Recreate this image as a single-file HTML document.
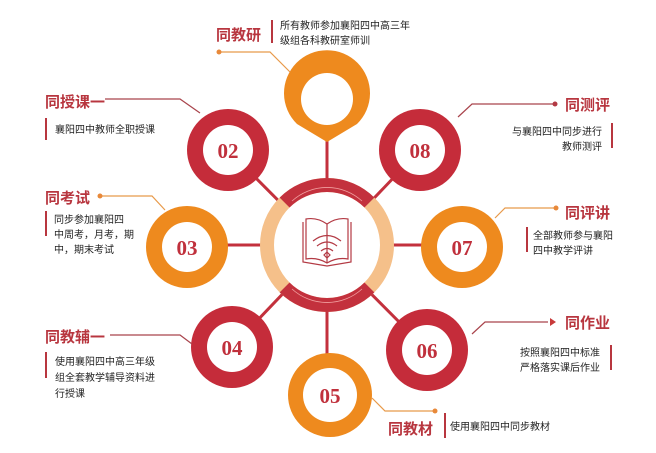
<!DOCTYPE html>
<html><head><meta charset="utf-8"><style>
body{margin:0;background:#fff;width:656px;height:453px;overflow:hidden}
svg{display:block}
.t{font-family:"Liberation Sans","Noto Sans CJK SC",sans-serif;font-size:10px;fill:#222}
.h{font-family:"Liberation Sans","Noto Sans CJK SC",sans-serif;font-size:15px;font-weight:bold;fill:#b8363f}
.n{font-family:"Liberation Serif",serif;font-size:21px;font-weight:bold;fill:#c0303c;text-anchor:middle}
</style></head><body>
<svg width="656" height="453" viewBox="0 0 656 453">
<g stroke="#c3313d" stroke-width="3">
<line x1="327" y1="130" x2="327" y2="360"/>
<line x1="200" y1="245" x2="455" y2="245"/>
<line x1="228" y1="150" x2="427" y2="350"/>
<line x1="420" y1="150" x2="232" y2="347"/>
</g>
<circle cx="327" cy="245" r="60" fill="#fff" stroke="#f5c08a" stroke-width="14"/>
<path d="M284.6 202.6 A60 60 0 0 1 369.4 202.6" fill="none" stroke="#c3313d" stroke-width="14"/>
<path d="M284.6 287.4 A60 60 0 0 0 369.4 287.4" fill="none" stroke="#c3313d" stroke-width="14"/>
<path d="M292 201 A52 52 0 0 1 362 201 M292 289 A52 52 0 0 0 362 289" fill="none" stroke="#f2a0a0" stroke-width="0.8"/>
<g fill="none" stroke="#b33a44" stroke-width="1.2">
<path d="M303 222 L303 262 L327 266 L351 262 L351 222"/>
<path d="M306 219 Q317 217 327 224 Q337 217 348 219 L348 259 Q337 257 327 263 Q317 257 306 259 Z"/>
<line x1="327" y1="224" x2="327" y2="263"/>
<path d="M313 241 Q327 230 341 241 M317 246 Q327 238 337 246 M321 251 Q327 246 333 251"/>
<path d="M327 252 l3 3 -3 3 -3 -3z"/>
</g>
<g>
<path d="M327 142 L297 124 A43 43 0 1 1 357 124 Z" fill="#ee8a1e"/>
<circle cx="327" cy="99" r="26" fill="#fff"/>
<circle cx="228" cy="150" r="41" fill="#c52c3a"/><circle cx="228" cy="150" r="25" fill="#fff"/>
<circle cx="420" cy="150" r="41" fill="#c52c3a"/><circle cx="420" cy="150" r="25" fill="#fff"/>
<circle cx="187" cy="247" r="41" fill="#ee8a1e"/><circle cx="187" cy="247" r="25" fill="#fff"/>
<circle cx="462" cy="247" r="41" fill="#ee8a1e"/><circle cx="462" cy="247" r="25" fill="#fff"/>
<circle cx="232" cy="347" r="41" fill="#c52c3a"/><circle cx="232" cy="347" r="25" fill="#fff"/>
<circle cx="427" cy="350" r="41" fill="#c52c3a"/><circle cx="427" cy="350" r="25" fill="#fff"/>
<circle cx="330" cy="395" r="42" fill="#ee8a1e"/><circle cx="330" cy="395" r="27" fill="#fff"/>
</g>
<text class="n" x="228" y="158">02</text>
<text class="n" x="420" y="158">08</text>
<text class="n" x="187" y="255">03</text>
<text class="n" x="462" y="255">07</text>
<text class="n" x="232" y="355">04</text>
<text class="n" x="427" y="358">06</text>
<text class="n" x="330" y="403">05</text>
<g fill="none" stroke-width="1.2">
<path d="M219 52 L270 52 L290 72" stroke="#e89a4a"/>
<path d="M105 99 L180 99 L200 113" stroke="#a9444c"/>
<path d="M100 196 L152 196 L165 210" stroke="#e89a4a"/>
<path d="M110 335 L180 335 L192 344" stroke="#a9444c"/>
<path d="M555 104 L472 104 L458 117" stroke="#a9444c"/>
<path d="M556 208 L505 208 L495 218" stroke="#e89a4a"/>
<path d="M548 322 L485 322 L472 334" stroke="#a9444c"/>
<path d="M435 411 L385 411 L372 398" stroke="#e89a4a"/>
</g>
<g fill="#e8893a"><circle cx="219" cy="52" r="2.5"/><circle cx="100" cy="196" r="2.5"/><circle cx="556" cy="208" r="2.5"/><circle cx="435" cy="411" r="2.5"/></g>
<circle cx="555" cy="104" r="2.5" fill="#b33a44"/>
<path d="M550 318 L556 322 L550 326 Z" fill="#c83a3a"/>
<g stroke="#b8363f" stroke-width="2">
<line x1="272" y1="20" x2="272" y2="43"/>
<line x1="46" y1="118" x2="46" y2="140"/>
<line x1="46" y1="211" x2="46" y2="236"/>
<line x1="46" y1="352" x2="46" y2="378"/>
<line x1="612" y1="123" x2="612" y2="148"/>
<line x1="527" y1="227" x2="527" y2="252"/>
<line x1="611" y1="345" x2="611" y2="370"/>
<line x1="445" y1="413" x2="445" y2="438"/>
</g>
<text class="h" x="216" y="40">同教研</text>
<text class="h" x="45" y="107">同授课一</text>
<text class="h" x="45" y="203">同考试</text>
<text class="h" x="45" y="342">同教辅一</text>
<text class="h" x="565" y="110">同测评</text>
<text class="h" x="565" y="218">同评讲</text>
<text class="h" x="565" y="328">同作业</text>
<text class="h" x="388" y="434">同教材</text>
<text class="t" x="280" y="29">所有教师参加襄阳四中高三年</text>
<text class="t" x="280" y="44">级组各科教研室师训</text>
<text class="t" x="55" y="133">襄阳四中教师全职授课</text>
<text class="t" x="54" y="223">同步参加襄阳四</text>
<text class="t" x="54" y="238">中周考，月考，期</text>
<text class="t" x="54" y="253">中，期末考试</text>
<text class="t" x="55" y="365">使用襄阳四中高三年级</text>
<text class="t" x="55" y="381">组全套教学辅导资料进</text>
<text class="t" x="55" y="397">行授课</text>
<text class="t" x="602" y="135" text-anchor="end">与襄阳四中同步进行</text>
<text class="t" x="602" y="150" text-anchor="end">教师测评</text>
<text class="t" x="533" y="239">全部教师参与襄阳</text>
<text class="t" x="533" y="254">四中教学评讲</text>
<text class="t" x="600" y="356" text-anchor="end">按照襄阳四中标准</text>
<text class="t" x="600" y="371" text-anchor="end">严格落实课后作业</text>
<text class="t" x="450" y="430">使用襄阳四中同步教材</text>
</svg>
</body></html>
